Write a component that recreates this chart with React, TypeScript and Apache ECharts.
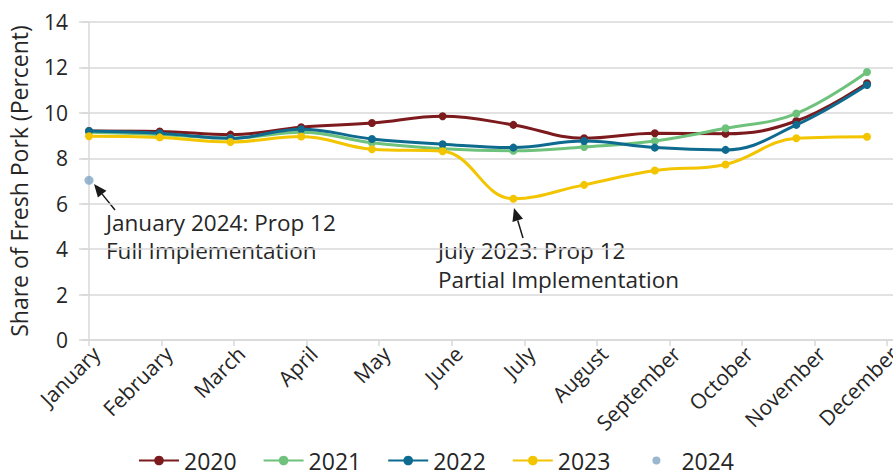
import React, { useEffect, useRef } from "react";
import * as echarts from "echarts";

const months = ["January", "February", "March", "April", "May", "June", "July", "August", "September", "October", "November", "December"];
const years = ["2020", "2021", "2022", "2023", "2024"];
const s2020 = [9.2, 9.18, 9.04, 9.37, 9.55, 9.85, 9.47, 8.88, 9.1, 9.08, 9.64, 11.3];
const s2021 = [9.15, 9.05, 8.88, 9.15, 8.68, 8.42, 8.33, 8.5, 8.76, 9.32, 9.97, 11.8];
const s2022 = [9.2, 9.1, 8.88, 9.28, 8.85, 8.62, 8.47, 8.76, 8.47, 8.37, 9.47, 11.23];
const s2023 = [8.97, 8.92, 8.72, 8.96, 8.4, 8.31, 6.22, 6.83, 7.46, 7.73, 8.88, 8.95];
const s2024 = [7.03];
const colors = ["#7D1A1D", "#6EC27C", "#0E6B8F", "#F2C500", "#7FA6C3"];
const yTicks = { min: 0, max: 14, interval: 2 };

const FONT = "Open Sans";
const TXT = "#262626";
const GRID = "#d9d9d9";

function arrow(tip: number[], tail: number[]) {
  const dx = tip[0] - tail[0];
  const dy = tip[1] - tail[1];
  const len = Math.sqrt(dx * dx + dy * dy);
  const ux = dx / len, uy = dy / len;
  const hl = 13, hw = 5.5;
  const bx = tip[0] - ux * hl, by = tip[1] - uy * hl;
  return [
    { type: "line", shape: { x1: tail[0], y1: tail[1], x2: bx, y2: by }, style: { stroke: "#1a1a1a", lineWidth: 1.5 } },
    {
      type: "polygon",
      shape: { points: [tip, [bx - uy * hw, by + ux * hw], [bx + uy * hw, by - ux * hw]] },
      style: { fill: "#1a1a1a" },
    },
  ];
}

export default function App() {
  const ref = useRef<HTMLDivElement>(null);
  useEffect(() => {
    if (!ref.current) return;
    const chart = echarts.init(ref.current, undefined, { renderer: "svg" });
    const lineSeries = [s2020, s2021, s2022, s2023].map((arr, k) => ({
      name: years[k],
      type: "line",
      xAxisIndex: 0,
      smooth: 0.4,
      symbol: "circle",
      symbolSize: 8,
      lineStyle: { width: 3, color: colors[k] },
      itemStyle: { color: colors[k] },
      data: arr.map((v, i) => [i, v]),
      z: 2 + k,
    }));
    const gridLeft = 82;
    const gridRightEdge = 913; // plot area extends a little past the window edge
    const ptStep = 70.73;
    const firstPt = 89;
    const tickStep = 72.55;
    const firstTick = 89;
    const labelShift = 7;
    chart.setOption({
      animation: false,
      textStyle: { fontFamily: FONT },
      grid: { left: gridLeft, right: 893 - gridRightEdge, top: 22, bottom: 133, outerBoundsMode: "none", containLabel: false },
      legend: {
        left: 133,
        top: 444,
        itemWidth: 40,
        itemHeight: 12,
        itemGap: 26,
        textStyle: { fontSize: 23, color: TXT, fontFamily: FONT },
        data: [
          ...years.slice(0, 4).map((y) => ({ name: y })),
          { name: years[4], icon: "path://M0,0M40,12M16,6a4,4 0 1,0 8,0a4,4 0 1,0 -8,0" },
        ],
      },
      xAxis: [
        {
          type: "value",
          min: -(firstPt - gridLeft) / ptStep,
          max: (gridRightEdge - firstPt) / ptStep,
          show: false,
        },
        {
          type: "value",
          position: "bottom",
          min: -(firstTick + labelShift - gridLeft) / tickStep,
          max: (gridRightEdge - firstTick - labelShift) / tickStep,
          axisLine: { show: true, lineStyle: { color: GRID, width: 1.5 } },
          axisTick: { show: false },
          axisLabel: {
            customValues: months.map((_, i) => i),
            formatter: (v: number) => months[Math.round(v)],
            rotate: 45,
            margin: 10,
            fontSize: 21,
            color: TXT,
            fontFamily: FONT,
          },
          splitLine: { show: false },
        },
        {
          type: "value",
          position: "bottom",
          min: -(firstTick - gridLeft) / tickStep,
          max: (gridRightEdge - firstTick) / tickStep,
          axisLine: { show: false },
          axisTick: { show: true, length: 6, customValues: months.map((_, i) => i), lineStyle: { color: GRID, width: 1.5 } },
          axisLabel: { show: false },
          splitLine: { show: false },
        },
      ],
      yAxis: {
        type: "value",
        min: yTicks.min,
        max: yTicks.max,
        interval: yTicks.interval,
        name: "Share of Fresh Pork (Percent)",
        nameLocation: "middle",
        nameGap: 52,
        nameTextStyle: { fontSize: 23, color: TXT, fontFamily: FONT },
        axisLine: { show: true, lineStyle: { color: GRID, width: 1.5 } },
        axisTick: { show: true, length: 10, lineStyle: { color: GRID, width: 1.5 } },
        axisLabel: { fontSize: 21, color: TXT, margin: 14, fontFamily: FONT },
        splitLine: { lineStyle: { color: GRID, width: 1.5 } },
      },
      series: [
        ...lineSeries,
        {
          name: years[4],
          type: "scatter",
          xAxisIndex: 0,
          symbolSize: 9,
          itemStyle: { color: colors[4] },
          data: s2024.map((v, i) => [i, v]),
          z: 10,
        },
      ],
      graphic: [
        {
          type: "text",
          x: 106,
          y: 208,
          style: { text: "January 2024: Prop 12\nFull Implementation", font: `22.5px ${FONT}`, fill: TXT, lineHeight: 28, verticalAlign: "top" },
        },
        {
          type: "text",
          x: 438,
          y: 236,
          style: { text: "July 2023: Prop 12\nPartial Implementation", font: `22.5px ${FONT}`, fill: TXT, lineHeight: 29, verticalAlign: "top" },
        },
        ...arrow([94, 184], [115, 210]),
        ...arrow([514, 208], [523, 238]),
      ],
    });
    return () => chart.dispose();
  }, []);
  return <div ref={ref} style={{ position: "absolute", left: 0, top: 0, width: 893, height: 473 }} />;
}
